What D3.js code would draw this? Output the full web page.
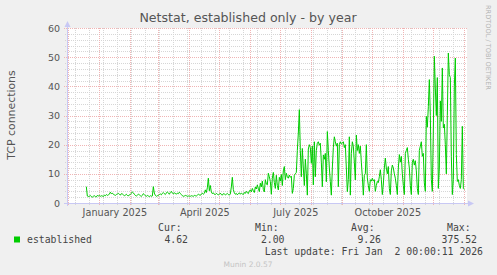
<!DOCTYPE html>
<html>
<head>
<meta charset="utf-8">
<script src="https://cdn.jsdelivr.net/npm/d3@7"></script>
<style>
  body { margin: 0; background: #f0f0f0; }
  svg { display: block; }
</style>
</head>
<body>
<div id="chart"></div>
<script>
// daily averages of established connections, one array per month
const dec2024 = [5.6, 2.4, 2.2, 2.3, 2.6, 2.2, 2.0, 2.3, 2.5, 2.2, 2.1, 2.6, 2.4];
const jan2025 = [2.6, 2.3, 2.5, 2.4, 2.2, 2.7, 2.5, 2.9, 2.6, 2.8, 3.0, 3.7, 3.2, 3.4, 3.0, 2.8, 2.6, 2.9, 3.1, 3.3, 3.0, 2.7, 3.2, 3.1, 2.8, 2.5, 2.7, 3.0, 2.6, 2.4, 2.8];
const feb2025 = [2.9, 3.3, 3.8, 3.5, 3.0, 2.6, 2.4, 2.7, 3.0, 2.8, 2.5, 2.3, 2.6, 3.2, 2.9, 2.5, 2.3, 2.6, 2.4, 2.2, 2.5, 2.3, 2.4, 5.6, 3.4, 2.6, 2.3, 2.5];
const mar2025 = [2.6, 2.9, 3.1, 2.8, 3.3, 3.6, 3.2, 2.9, 3.4, 3.8, 3.5, 3.0, 3.6, 4.0, 3.4, 3.1, 3.5, 3.3, 3.0, 3.4, 3.2, 3.7, 3.3, 2.9, 2.5, 2.3, 2.4, 2.6, 2.5, 2.3, 2.4];
const apr2025 = [2.4, 2.3, 2.5, 2.4, 2.3, 2.6, 2.5, 2.4, 2.7, 3.0, 2.8, 2.6, 3.1, 3.4, 3.0, 3.3, 4.5, 3.6, 5.2, 8.5, 4.2, 6.0, 3.8, 3.2, 3.5, 3.0, 2.9, 3.3, 3.0, 2.8];
const may2025 = [3.0, 3.4, 2.9, 2.7, 3.2, 3.1, 2.8, 3.0, 3.3, 2.9, 2.7, 3.1, 5.5, 8.8, 4.6, 3.5, 3.0, 3.3, 2.8, 3.2, 3.5, 3.0, 3.4, 3.1, 2.9, 3.6, 3.3, 4.0, 3.5, 3.2, 4.2];
const jun2025 = [4.5, 3.8, 5.0, 4.2, 3.6, 5.5, 4.8, 6.2, 5.0, 3.9, 6.8, 5.5, 7.5, 4.6, 3.8, 8.0, 6.5, 6.2, 10.2, 9.0, 7.4, 3.0, 8.5, 10.5, 7.0, 5.0, 9.5, 6.0, 4.5, 8.8];
const jul2025 = [7.5, 9.8, 6.0, 11.0, 12.5, 8.0, 10.2, 9.0, 8.5, 9.6, 8.8, 9.2, 3.3, 5.0, 9.5, 10.0, 10.5, 18.0, 24.0, 32.0, 18.0, 9.0, 18.7, 12.0, 6.0, 15.0, 10.0, 2.7, 18.5, 20.0, 19.0];
const aug2025 = [13.6, 19.5, 6.2, 21.0, 9.0, 18.0, 20.5, 21.0, 19.8, 20.5, 14.0, 5.6, 16.5, 15.0, 17.0, 7.3, 24.5, 18.0, 12.0, 7.3, 2.7, 12.0, 19.0, 22.7, 21.0, 19.5, 20.5, 5.6, 20.0, 21.0, 20.2];
const sep2025 = [20.5, 21.0, 19.0, 20.0, 12.0, 3.9, 8.0, 22.7, 2.7, 17.0, 21.0, 19.5, 14.0, 7.9, 23.3, 18.0, 20.0, 17.0, 19.5, 14.0, 9.0, 2.7, 9.5, 10.0, 20.0, 8.6, 6.0, 4.0, 8.0, 7.5];
const oct2025 = [8.5, 7.5, 8.0, 4.0, 6.0, 7.4, 7.0, 9.0, 11.4, 8.0, 2.9, 6.5, 12.0, 15.4, 12.0, 10.0, 12.5, 5.0, 2.9, 11.0, 13.0, 12.0, 10.0, 8.5, 6.0, 2.9, 12.0, 16.6, 14.0, 16.0, 10.0];
const nov2025 = [6.0, 2.9, 17.0, 18.0, 19.0, 15.0, 12.0, 6.0, 2.9, 14.0, 15.0, 13.0, 14.5, 11.0, 5.0, 2.9, 18.0, 19.5, 21.0, 16.0, 17.0, 6.9, 4.0, 29.7, 26.0, 33.0, 42.3, 30.0, 8.0, 4.0];
const dec2025 = [25.0, 50.3, 39.4, 30.0, 43.0, 5.0, 12.0, 35.0, 28.0, 46.3, 25.7, 27.0, 20.0, 10.0, 30.0, 51.4, 44.0, 43.0, 16.0, 2.9, 8.0, 40.0, 49.7, 16.6, 7.4, 8.0, 6.0, 5.0, 8.0, 26.3, 5.0];
const jan2026 = [4.62];

const monthStarts = ["2024-12-19", "2025-01-01", "2025-02-01", "2025-03-01", "2025-04-01", "2025-05-01",
  "2025-06-01", "2025-07-01", "2025-08-01", "2025-09-01", "2025-10-01", "2025-11-01", "2025-12-01", "2026-01-01"];
const monthValues = [dec2024, jan2025, feb2025, mar2025, apr2025, may2025, jun2025, jul2025,
  aug2025, sep2025, oct2025, nov2025, dec2025, jan2026];

const yTicks = [0, 10, 20, 30, 40, 50, 60];
const xLabels = ["January 2025", "April 2025", "July 2025", "October 2025"];
const xLabelMonths = ["2025-01-01", "2025-04-01", "2025-07-01", "2025-10-01"];

const seriesName = "established";
const statNames = ["Cur:", "Min:", "Avg:", "Max:"];
const statValues = ["4.62", "2.00", "9.26", "375.52"];
const lastUpdate = "Last update: Fri Jan  2 00:00:11 2026";

// build the daily series
const series = [];
monthValues.forEach(function(vals, m) {
    const start = new Date(monthStarts[m] + "T00:00:00Z");
    vals.forEach(function(v, i) {
        series.push({date: d3.utcDay.offset(start, i), value: v});
    });
});

const width = 497, height = 275;
const plot = {left: 67, right: 467, top: 28, bottom: 203};

const svg = d3.select("#chart").append("svg")
    .attr("width", width)
    .attr("height", height)
    .style("font-family", "'DejaVu Sans', sans-serif");

svg.append("rect").attr("width", width).attr("height", height).attr("fill", "#f0f0f0");

const x = d3.scaleUtc()
    .domain([new Date(Date.UTC(2024, 10, 29, 16)), new Date(Date.UTC(2026, 0, 3, 16))])
    .range([plot.left, plot.right]);
const y = d3.scaleLinear().domain([0, 60]).range([plot.bottom, plot.top]);

const crisp = v => Math.round(v) + 0.5;

// canvas
svg.append("rect")
    .attr("x", plot.left).attr("y", plot.top)
    .attr("width", plot.right - plot.left).attr("height", plot.bottom - plot.top)
    .attr("fill", "#ffffff");

const grid = svg.append("g");
const minorColor = "#d6d6d6", majorColor = "#f0b4b4";

// horizontal grid
const yMinor = d3.range(0, 61, 2).filter(v => v % 10 !== 0);
grid.selectAll(".hminor").data(yMinor).join("line")
    .attr("x1", plot.left - 2).attr("x2", plot.right)
    .attr("y1", d => crisp(y(d))).attr("y2", d => crisp(y(d)))
    .attr("stroke", minorColor).attr("stroke-dasharray", "1,1");
grid.selectAll(".hmajor").data(yTicks.filter(v => v > 0)).join("line")
    .attr("x1", plot.left - 3).attr("x2", plot.right)
    .attr("y1", d => crisp(y(d))).attr("y2", d => crisp(y(d)))
    .attr("stroke", majorColor).attr("stroke-dasharray", "1,1");

// vertical grid: every second Sunday, and month starts
const xMinor = d3.range(0, 30)
    .map(i => d3.utcDay.offset(new Date(Date.UTC(2024, 11, 8)), i * 14))
    .filter(d => x(d) > plot.left && x(d) < plot.right);
grid.selectAll(".vminor").data(xMinor).join("line")
    .attr("x1", d => crisp(x(d))).attr("x2", d => crisp(x(d)))
    .attr("y1", plot.top).attr("y2", plot.bottom + 2)
    .attr("stroke", minorColor).attr("stroke-dasharray", "1,1");
const xMajor = d3.utcMonth.range(x.domain()[0], x.domain()[1]);
grid.selectAll(".vmajor").data(xMajor).join("line")
    .attr("x1", d => crisp(x(d))).attr("x2", d => crisp(x(d)))
    .attr("y1", plot.top).attr("y2", plot.bottom + 3)
    .attr("stroke", majorColor).attr("stroke-dasharray", "1,1");

// axes lines with arrows
const axisColor = "#c8c8f4";
svg.append("line")
    .attr("x1", plot.left - 3).attr("x2", plot.right + 2)
    .attr("y1", plot.bottom + 0.5).attr("y2", plot.bottom + 0.5)
    .attr("stroke", axisColor);
svg.append("line")
    .attr("x1", plot.left + 0.5).attr("x2", plot.left + 0.5)
    .attr("y1", plot.bottom + 3).attr("y2", plot.top - 3)
    .attr("stroke", axisColor);
svg.append("path")
    .attr("d", `M${plot.left + 0.5},${plot.top - 7} L${plot.left - 2.5},${plot.top - 1} L${plot.left + 3.5},${plot.top - 1} Z`)
    .attr("fill", axisColor);
svg.append("path")
    .attr("d", `M${plot.right + 7},${plot.bottom + 0.5} L${plot.right + 1},${plot.bottom - 2.5} L${plot.right + 1},${plot.bottom + 3.5} Z`)
    .attr("fill", axisColor);

// data line
const line = d3.line()
    .x(d => x(d.date))
    .y(d => y(d.value));
svg.append("path")
    .datum(series)
    .attr("d", line)
    .attr("fill", "none")
    .attr("stroke", "#00cc00")
    .attr("stroke-width", 1);

// y axis labels
const yAxis = d3.axisLeft(y).tickValues(yTicks).tickSize(0).tickPadding(7);
const yAxisG = svg.append("g").attr("transform", `translate(${plot.left},0)`).call(yAxis);
yAxisG.select(".domain").remove();
yAxisG.selectAll("text").attr("fill", "#555").style("font-size", "9.5px")
    .style("font-family", "'DejaVu Sans', sans-serif");

// x axis labels, centered half a month after the month start
const labelDates = xLabelMonths.map(s => d3.utcDay.offset(new Date(s + "T00:00:00Z"), 15));
const xAxis = d3.axisBottom(x).tickValues(labelDates)
    .tickFormat((d, i) => xLabels[i]).tickSize(0).tickPadding(6);
const xAxisG = svg.append("g").attr("transform", `translate(0,${plot.bottom})`).call(xAxis);
xAxisG.select(".domain").remove();
xAxisG.selectAll("text").attr("fill", "#555").style("font-size", "9.7px")
    .style("font-family", "'DejaVu Sans', sans-serif");

// titles
svg.append("text")
    .attr("x", 248).attr("y", 22)
    .attr("text-anchor", "middle")
    .attr("fill", "#555")
    .style("font-size", "12.6px")
    .text("Netstat, established only - by year");

svg.append("text")
    .attr("transform", "translate(15,115) rotate(-90)")
    .attr("text-anchor", "middle")
    .attr("fill", "#555")
    .style("font-size", "10.9px")
    .text("TCP connections");

svg.append("text")
    .attr("transform", "translate(486,5) rotate(90)")
    .attr("fill", "#b4b4b4")
    .style("font-size", "6.6px")
    .text("RRDTOOL / TOBI OETIKER");

// legend
const mono = "'DejaVu Sans Mono', monospace";
const legend = svg.append("g").style("font-family", mono).style("font-size", "9.8px").attr("fill", "#444");

legend.append("rect")
    .attr("x", 14).attr("y", 236.5).attr("width", 6).attr("height", 6)
    .attr("fill", "#00cc00");
legend.append("text").attr("x", 27).attr("y", 243).text(seriesName);

const statX = [158, 255, 351, 447];
const statValueRight = [188, 284.5, 381, 477];
statNames.forEach(function(name, i) {
    legend.append("text").attr("x", statX[i]).attr("y", 231).text(name);
    legend.append("text").attr("x", statValueRight[i]).attr("y", 243)
        .attr("text-anchor", "end").text(statValues[i]);
});
legend.append("text").attr("x", 483).attr("y", 255)
    .attr("text-anchor", "end").style("white-space", "pre").text(lastUpdate);

svg.append("text")
    .attr("x", 248).attr("y", 267)
    .attr("text-anchor", "middle")
    .attr("fill", "#c4c4c4")
    .style("font-size", "7.5px")
    .text("Munin 2.0.57");
</script>
</body>
</html>
